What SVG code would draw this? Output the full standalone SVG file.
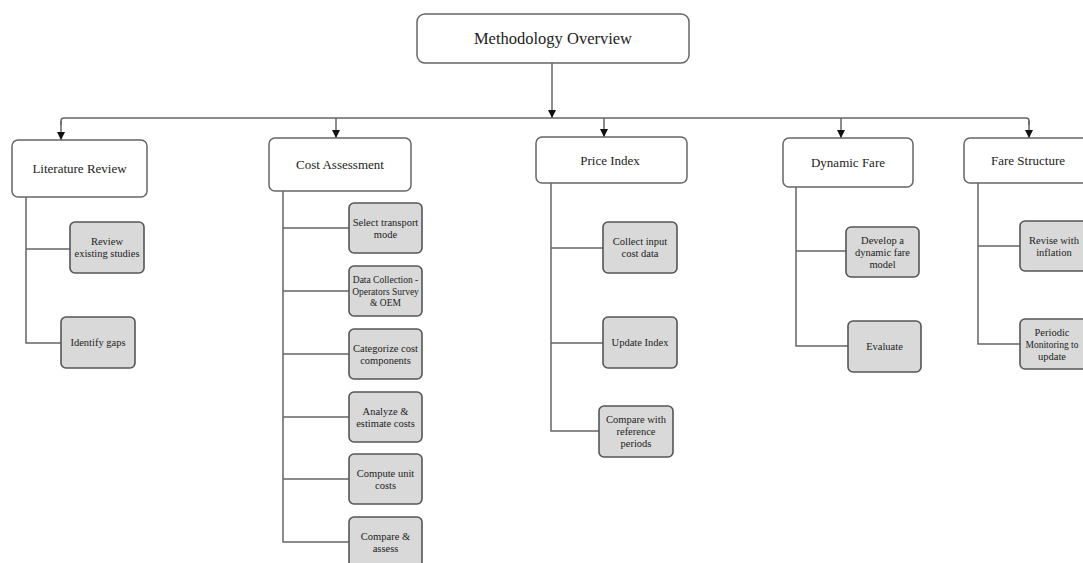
<svg xmlns="http://www.w3.org/2000/svg" width="1083" height="563" viewBox="0 0 1083 563">
<defs>
<marker id="arr" viewBox="0 0 8 8" refX="8" refY="4" markerWidth="8" markerHeight="8" markerUnits="userSpaceOnUse" orient="auto">
<path d="M0,0 L8,4 L0,8 Z" fill="#111"/>
</marker>
<style>
.top{fill:#fff;stroke:#666;stroke-width:1.5}
.sub{fill:#d9d9d9;stroke:#555;stroke-width:1.6}
.ln{fill:none;stroke:#666;stroke-width:1.5}
.tt{font-family:"Liberation Serif","Times New Roman",serif;font-size:13px;fill:#222;text-anchor:middle}
.tm{font-family:"Liberation Serif","Times New Roman",serif;font-size:16.5px;fill:#222;text-anchor:middle}
.ts{font-family:"Liberation Serif","Times New Roman",serif;font-size:10.5px;fill:#222;text-anchor:middle}
.tx{font-family:"Liberation Serif","Times New Roman",serif;font-size:9.5px;fill:#222;text-anchor:middle}
</style>
</defs>
<rect width="1083" height="563" fill="#fff"/>
<g id="connectors">
<path class="ln" d="M552,63 V118" marker-end="url(#arr)"/>
<path class="ln" d="M61,125 V121 Q61,118 64,118 H1026 Q1029,118 1029,121 V125"/>
<path class="ln" d="M61,121 V140" marker-end="url(#arr)"/>
<path class="ln" d="M336,118 V138" marker-end="url(#arr)"/>
<path class="ln" d="M604,118 V137" marker-end="url(#arr)"/>
<path class="ln" d="M841,118 V138" marker-end="url(#arr)"/>
<path class="ln" d="M1029,121 V138" marker-end="url(#arr)"/>
<path class="ln" d="M26,197 V343 H61 M26,249 H70"/>
<path class="ln" d="M283,191 V542 H349 M283,228 H349 M283,291 H349 M283,354 H349 M283,417 H349 M283,479 H349"/>
<path class="ln" d="M551,183 V431 H599 M551,248 H603 M551,343 H603"/>
<path class="ln" d="M796,187 V346 H848 M796,251 H846"/>
<path class="ln" d="M978,183 V344 H1020 M978,246 H1020"/>
</g>
<g id="methodology-overview"><rect class="top" x="417" y="14" width="272" height="49" rx="8"/><text class="tm" x="553" y="44">Methodology Overview</text></g>
<g id="literature-review"><rect class="top" x="12" y="140" width="135" height="57" rx="6"/><text class="tt" x="79.5" y="173">Literature Review</text></g>
<g id="cost-assessment"><rect class="top" x="269" y="138" width="142" height="53" rx="6"/><text class="tt" x="340" y="169">Cost Assessment</text></g>
<g id="price-index"><rect class="top" x="536" y="137" width="151" height="46" rx="6"/><text class="tt" x="610" y="165">Price Index</text></g>
<g id="dynamic-fare"><rect class="top" x="783" y="138" width="130" height="49" rx="6"/><text class="tt" x="848" y="167">Dynamic Fare</text></g>
<g id="fare-structure"><rect class="top" x="964" y="138" width="128" height="45" rx="6"/><text class="tt" x="1028" y="165">Fare Structure</text></g>

<g id="review-studies"><rect class="sub" x="70" y="222" width="74" height="51" rx="5"/><text class="ts" x="107" y="245">Review</text><text class="ts" x="107" y="257">existing studies</text></g>
<g id="identify-gaps"><rect class="sub" x="61" y="317" width="74" height="51" rx="5"/><text class="ts" x="98" y="346">Identify gaps</text></g>

<g id="select-mode"><rect class="sub" x="349" y="203" width="73" height="50" rx="5"/><text class="ts" x="385.5" y="225.5">Select transport</text><text class="ts" x="385.5" y="237.5">mode</text></g>
<g id="data-collection"><rect class="sub" x="349" y="266" width="73" height="50" rx="5"/><text class="tx" x="385.5" y="283">Data Collection -</text><text class="tx" x="385.5" y="294.5">Operators Survey</text><text class="tx" x="385.5" y="306">&amp; OEM</text></g>
<g id="categorize"><rect class="sub" x="349" y="329" width="73" height="50" rx="5"/><text class="ts" x="385.5" y="351.5">Categorize cost</text><text class="ts" x="385.5" y="363.5">components</text></g>
<g id="analyze"><rect class="sub" x="349" y="392" width="73" height="50" rx="5"/><text class="ts" x="385.5" y="414.5">Analyze  &amp;</text><text class="ts" x="385.5" y="426.5">estimate costs</text></g>
<g id="compute-unit"><rect class="sub" x="349" y="454" width="73" height="50" rx="5"/><text class="ts" x="385.5" y="476.5">Compute unit</text><text class="ts" x="385.5" y="488.5">costs</text></g>
<g id="compare-assess"><rect class="sub" x="349" y="517" width="73" height="50" rx="5"/><text class="ts" x="385.5" y="539.5">Compare &amp;</text><text class="ts" x="385.5" y="551.5">assess</text></g>

<g id="collect-input"><rect class="sub" x="603" y="222" width="74" height="51" rx="5"/><text class="ts" x="640" y="245">Collect input</text><text class="ts" x="640" y="257">cost data</text></g>
<g id="update-index"><rect class="sub" x="603" y="317" width="74" height="51" rx="5"/><text class="ts" x="640" y="346">Update Index</text></g>
<g id="compare-reference"><rect class="sub" x="599" y="406" width="74" height="51" rx="5"/><text class="ts" x="636" y="422.5">Compare with</text><text class="ts" x="636" y="434.5">reference</text><text class="ts" x="636" y="446.5">periods</text></g>

<g id="develop-model"><rect class="sub" x="846" y="227" width="73" height="50" rx="5"/><text class="ts" x="882.5" y="243.5">Develop a</text><text class="ts" x="882.5" y="255.5">dynamic fare</text><text class="ts" x="882.5" y="267.5">model</text></g>
<g id="evaluate"><rect class="sub" x="848" y="321" width="73" height="51" rx="5"/><text class="ts" x="884.5" y="350">Evaluate</text></g>

<g id="revise-inflation"><rect class="sub" x="1020" y="221" width="73" height="50" rx="5"/><text class="ts" x="1054" y="243.5">Revise with</text><text class="ts" x="1054" y="255.5">inflation</text></g>
<g id="periodic-monitoring"><rect class="sub" x="1020" y="319" width="73" height="50" rx="5"/><text class="ts" x="1052" y="335.5">Periodic</text><text class="tx" x="1052" y="347.5">Monitoring to</text><text class="ts" x="1052" y="359.5">update</text></g>
</svg>
